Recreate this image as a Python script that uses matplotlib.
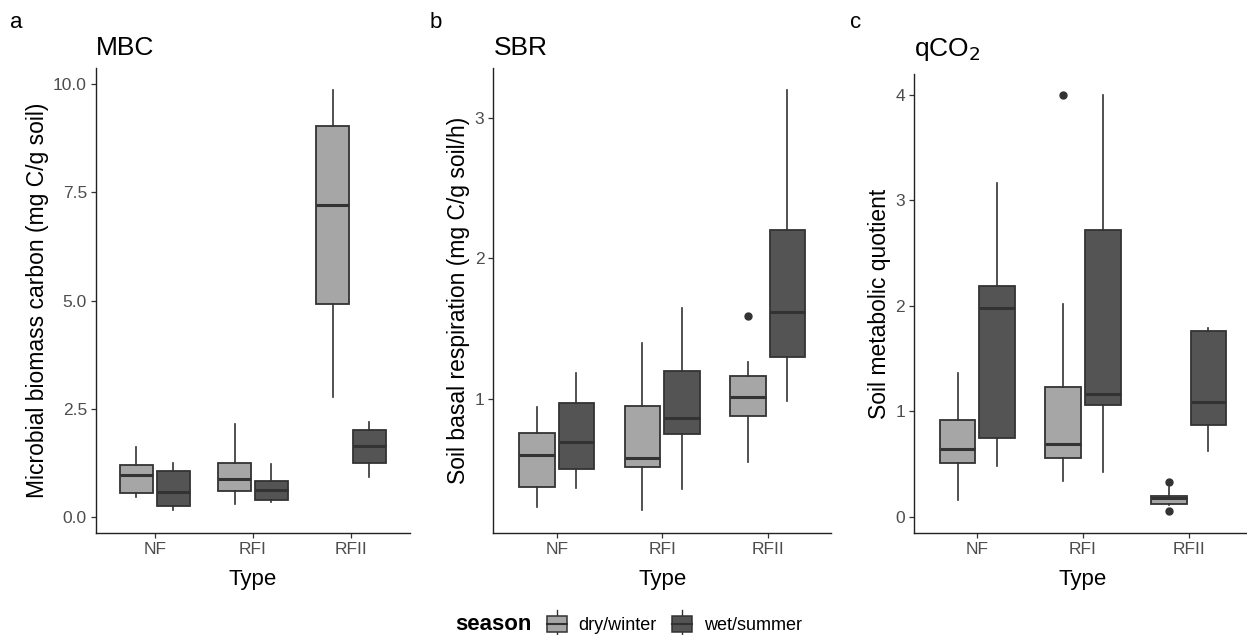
import matplotlib
matplotlib.use("Agg")
import matplotlib.pyplot as plt
from matplotlib.patches import Patch, Rectangle
from matplotlib.lines import Line2D
from matplotlib.legend_handler import HandlerBase

plt.rcParams['font.family'] = ['Liberation Sans', 'DejaVu Sans']

types = ["NF", "RFI", "RFII"]
seasons = ["dry/winter", "wet/summer"]
season_colors = ["#A6A6A6", "#545454"]

# box stats per panel: [season][type] -> (low whisker, q1, median, q3, high whisker)
mbc_dry = [(0.45, 0.55, 0.96, 1.19, 1.62), (0.30, 0.60, 0.87, 1.25, 2.15), (2.77, 4.92, 7.22, 9.03, 9.87)]
mbc_wet = [(0.16, 0.25, 0.57, 1.05, 1.25), (0.35, 0.39, 0.63, 0.82, 1.23), (0.93, 1.25, 1.63, 2.00, 2.19)]
mbc_dry_out = [[], [], []]
mbc_wet_out = [[], [], []]

sbr_dry = [(0.226, 0.373, 0.60, 0.755, 0.939), (0.205, 0.51, 0.58, 0.944, 1.395), (0.549, 0.878, 1.01, 1.16, 1.26)]
sbr_wet = [(0.36, 0.50, 0.69, 0.97, 1.18), (0.353, 0.748, 0.865, 1.20, 1.65), (0.985, 1.30, 1.62, 2.205, 3.20)]
sbr_dry_out = [[], [], [1.59]]
sbr_wet_out = [[], [], []]

qco2_dry = [(0.155, 0.51, 0.64, 0.92, 1.367), (0.335, 0.56, 0.69, 1.23, 2.02), (0.112, 0.118, 0.175, 0.194, 0.287)]
qco2_wet = [(0.48, 0.75, 1.98, 2.186, 3.16), (0.426, 1.056, 1.167, 2.72, 4.0), (0.62, 0.873, 1.09, 1.76, 1.79)]
qco2_dry_out = [[], [4.0], [0.333, 0.06]]
qco2_wet_out = [[], [], []]

panels = [
    ("a", "MBC", "Microbial biomass carbon (mg C/g soil)", mbc_dry, mbc_wet, mbc_dry_out, mbc_wet_out,
     [0, 2.5, 5, 7.5, 10], ["0.0", "2.5", "5.0", "7.5", "10.0"], (-0.372, 10.38)),
    ("b", "SBR", "Soil basal respiration (mg C/g soil/h)", sbr_dry, sbr_wet, sbr_dry_out, sbr_wet_out,
     [1, 2, 3], ["1", "2", "3"], (0.042, 3.36)),
    ("c", r"qCO$_2$", "Soil metabolic quotient", qco2_dry, qco2_wet, qco2_dry_out, qco2_wet_out,
     [0, 1, 2, 3, 4], ["0", "1", "2", "3", "4"], (-0.152, 4.196)),
]

edge = "#333333"


class BoxKey(HandlerBase):
    # small boxplot glyph for the legend keys
    def create_artists(self, legend, orig_handle, xdescent, ydescent, width, height, fontsize, trans):
        x0, y0 = -xdescent, -ydescent
        fc = orig_handle.get_facecolor()
        rect = Rectangle((x0, y0), width, height, facecolor=fc, edgecolor=edge, lw=1.1, transform=trans)
        med = Line2D([x0, x0 + width], [y0 + height / 2] * 2, color=edge, lw=1.5, transform=trans)
        w1 = Line2D([x0 + width / 2] * 2, [y0 + height, y0 + height * 1.35], color=edge, lw=1.0, transform=trans)
        w2 = Line2D([x0 + width / 2] * 2, [y0, y0 - height * 0.3], color=edge, lw=1.0, transform=trans)
        return [w1, w2, rect, med]


W, H = 1247, 635
fig = plt.figure(figsize=(W / 100, H / 100), dpi=100)

# axes rectangles in pixels: left, right, top, bottom
rects = [(96, 409.8, 67.9, 532.9), (493.4, 831, 67.9, 532.9), (914, 1252, 73.9, 532.9)]
tag_x = [10, 430, 850]
title_pad = [9, 9, 13]

for (tag, title, ylab, dry, wet, dry_out, wet_out, yt, ytl, ylim), (l, r, t, b), tx, tp in zip(panels, rects, tag_x, title_pad):
    ax = fig.add_axes([l / W, 1 - b / H, (r - l) / W, (b - t) / H])
    for s, (data, outs) in enumerate([(dry, dry_out), (wet, wet_out)]):
        stats = []
        for (lo, q1, med, q3, hi), o in zip(data, outs):
            stats.append(dict(whislo=lo, q1=q1, med=med, q3=q3, whishi=hi, fliers=o))
        pos = [i + 1 + (-0.1875 if s == 0 else 0.1875) for i in range(3)]
        ax.bxp(stats, positions=pos, widths=0.3375, patch_artist=True, showcaps=False,
               boxprops=dict(facecolor=season_colors[s], edgecolor=edge, linewidth=1.3),
               medianprops=dict(color=edge, linewidth=2.2),
               whiskerprops=dict(color=edge, linewidth=1.2),
               flierprops=dict(marker="o", markerfacecolor=edge, markeredgecolor=edge, markersize=5))
    ax.set_xlim(0.4, 3.6)
    ax.set_ylim(*ylim)
    ax.set_xticks([1, 2, 3])
    ax.set_xticklabels(types)
    ax.set_yticks(yt)
    ax.set_yticklabels(ytl)
    for sp in ["top", "right"]:
        ax.spines[sp].set_visible(False)
    for sp in ["left", "bottom"]:
        ax.spines[sp].set_color("#222222")
        ax.spines[sp].set_linewidth(1.0)
    ax.tick_params(axis="both", labelsize=12.5, labelcolor="#4D4D4D", color="#333333", length=3.5, width=0.9, pad=3)
    ax.set_xlabel("Type", fontsize=16, labelpad=9)
    ax.set_ylabel(ylab, fontsize=16.5, labelpad=3)
    ax.set_title(title, loc="left", fontsize=19, pad=tp)
    fig.text(tx / W, 1 - 22 / H, tag, fontsize=16, va="center", ha="left")

# legend at bottom
fig.text(455 / W, 1 - 630 / H, "season", fontsize=16, fontweight="bold", va="baseline", ha="left")
handles = [Patch(facecolor=c, edgecolor=edge) for c in season_colors]
fig.legend(handles, seasons, handler_map={Patch: BoxKey()}, loc="center left",
           bbox_to_anchor=(536 / W, 1 - 625 / H), ncol=2, frameon=False, borderpad=0.1,
           fontsize=13, handlelength=1.1, handleheight=1.0, columnspacing=0.85, handletextpad=0.65)

fig.savefig("out.png", dpi=100)
